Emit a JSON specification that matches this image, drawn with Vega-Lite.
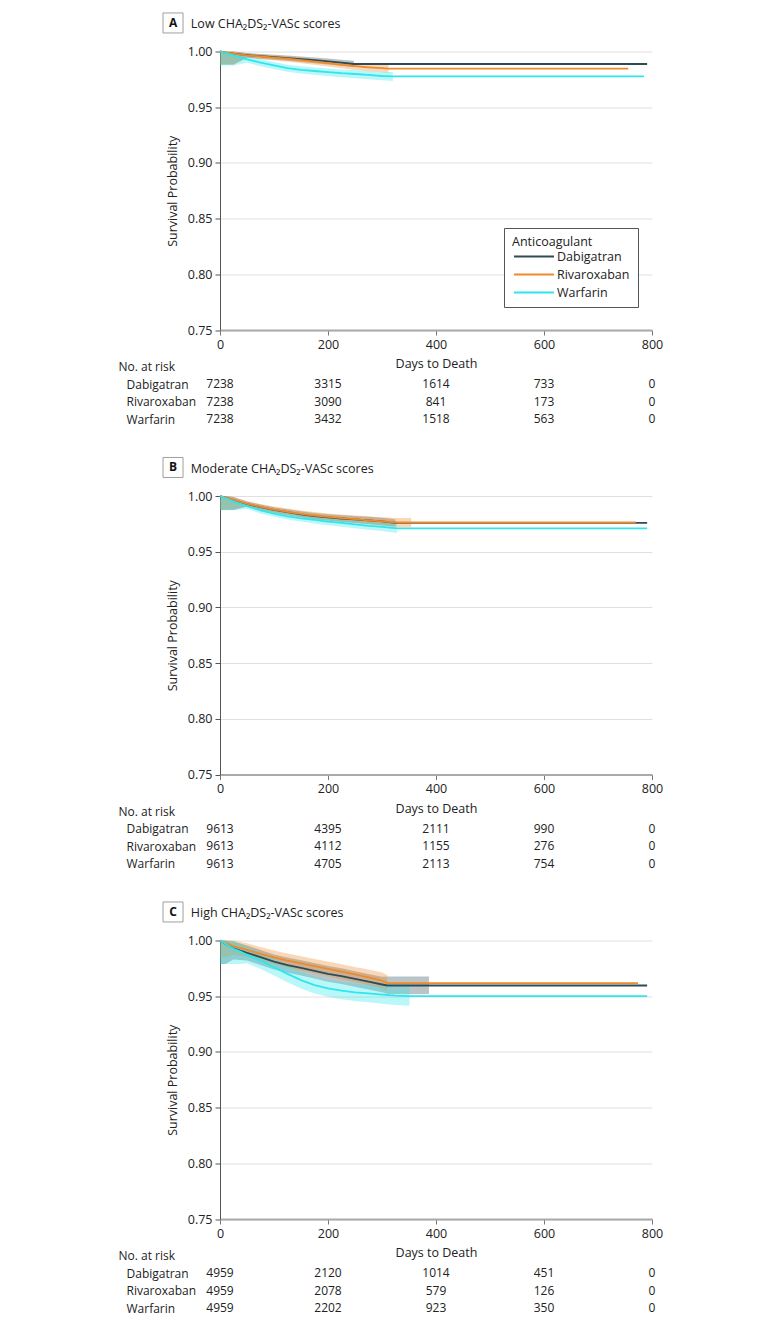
{
  "$schema": "https://vega.github.io/schema/vega-lite/v6.json",
  "padding": {"left": 118, "top": 10.5, "right": 10, "bottom": 4},
  "config": {
    "font": "Open Sans",
    "view": {"stroke": null},
    "axis": {"labelFont": "Open Sans", "titleFont": "Open Sans", "labelFontSize": 12.5, "titleFontSize": 12.5, "titleFontWeight": "normal", "labelColor": "#222", "titleColor": "#222", "labelFlush": false},
    "legend": {"labelFont": "Open Sans", "titleFont": "Open Sans"},
    "text": {"font": "Open Sans"}
  },
  "datasets": {
    "km": [
      {"p":"A","drug":"Dabigatran","day":0,"s":1.0,"lo":0.988,"hi":1.0},
      {"p":"A","drug":"Dabigatran","day":10,"s":0.999,"lo":0.988,"hi":1.0},
      {"p":"A","drug":"Dabigatran","day":25,"s":0.998,"lo":0.988,"hi":1.0},
      {"p":"A","drug":"Dabigatran","day":50,"s":0.9968,"lo":0.9945,"hi":0.9986},
      {"p":"A","drug":"Dabigatran","day":75,"s":0.9958,"lo":0.9935,"hi":0.9978},
      {"p":"A","drug":"Dabigatran","day":100,"s":0.995,"lo":0.9926,"hi":0.9971},
      {"p":"A","drug":"Dabigatran","day":125,"s":0.9941,"lo":0.9916,"hi":0.9964},
      {"p":"A","drug":"Dabigatran","day":150,"s":0.9932,"lo":0.9906,"hi":0.9956},
      {"p":"A","drug":"Dabigatran","day":175,"s":0.9922,"lo":0.9895,"hi":0.9947},
      {"p":"A","drug":"Dabigatran","day":200,"s":0.9912,"lo":0.9884,"hi":0.9938},
      {"p":"A","drug":"Dabigatran","day":225,"s":0.99,"lo":0.9872,"hi":0.9927},
      {"p":"A","drug":"Dabigatran","day":248,"s":0.9888,"lo":0.986,"hi":0.9916},
      {"p":"A","drug":"Dabigatran","day":791,"s":0.9888,"lo":null,"hi":null},
      {"p":"A","drug":"Rivaroxaban","day":0,"s":1.0,"lo":0.9885,"hi":1.0},
      {"p":"A","drug":"Rivaroxaban","day":10,"s":0.9992,"lo":0.9885,"hi":1.0},
      {"p":"A","drug":"Rivaroxaban","day":25,"s":0.998,"lo":0.9885,"hi":1.0},
      {"p":"A","drug":"Rivaroxaban","day":50,"s":0.9966,"lo":0.9942,"hi":0.9985},
      {"p":"A","drug":"Rivaroxaban","day":75,"s":0.9955,"lo":0.993,"hi":0.9976},
      {"p":"A","drug":"Rivaroxaban","day":100,"s":0.9945,"lo":0.9919,"hi":0.9967},
      {"p":"A","drug":"Rivaroxaban","day":125,"s":0.9935,"lo":0.9908,"hi":0.9958},
      {"p":"A","drug":"Rivaroxaban","day":150,"s":0.9922,"lo":0.9894,"hi":0.9946},
      {"p":"A","drug":"Rivaroxaban","day":175,"s":0.991,"lo":0.9881,"hi":0.9935},
      {"p":"A","drug":"Rivaroxaban","day":200,"s":0.9895,"lo":0.9865,"hi":0.9922},
      {"p":"A","drug":"Rivaroxaban","day":225,"s":0.988,"lo":0.9849,"hi":0.9908},
      {"p":"A","drug":"Rivaroxaban","day":250,"s":0.9868,"lo":0.9835,"hi":0.9897},
      {"p":"A","drug":"Rivaroxaban","day":275,"s":0.9858,"lo":0.9823,"hi":0.9889},
      {"p":"A","drug":"Rivaroxaban","day":300,"s":0.985,"lo":0.9813,"hi":0.9884},
      {"p":"A","drug":"Rivaroxaban","day":312,"s":0.9846,"lo":0.9808,"hi":0.9881},
      {"p":"A","drug":"Rivaroxaban","day":756,"s":0.9846,"lo":null,"hi":null},
      {"p":"A","drug":"Warfarin","day":0,"s":1.0,"lo":0.9875,"hi":1.0},
      {"p":"A","drug":"Warfarin","day":10,"s":0.9985,"lo":0.9875,"hi":1.0},
      {"p":"A","drug":"Warfarin","day":25,"s":0.9965,"lo":0.9875,"hi":0.999},
      {"p":"A","drug":"Warfarin","day":50,"s":0.993,"lo":0.9898,"hi":0.9958},
      {"p":"A","drug":"Warfarin","day":75,"s":0.99,"lo":0.9868,"hi":0.993},
      {"p":"A","drug":"Warfarin","day":100,"s":0.9875,"lo":0.9843,"hi":0.9905},
      {"p":"A","drug":"Warfarin","day":125,"s":0.985,"lo":0.9818,"hi":0.9881},
      {"p":"A","drug":"Warfarin","day":150,"s":0.9835,"lo":0.9802,"hi":0.9867},
      {"p":"A","drug":"Warfarin","day":175,"s":0.9825,"lo":0.9791,"hi":0.9857},
      {"p":"A","drug":"Warfarin","day":200,"s":0.9815,"lo":0.978,"hi":0.9848},
      {"p":"A","drug":"Warfarin","day":225,"s":0.9805,"lo":0.9769,"hi":0.9839},
      {"p":"A","drug":"Warfarin","day":250,"s":0.9798,"lo":0.9761,"hi":0.9833},
      {"p":"A","drug":"Warfarin","day":275,"s":0.979,"lo":0.9752,"hi":0.9826},
      {"p":"A","drug":"Warfarin","day":300,"s":0.978,"lo":0.9741,"hi":0.9817},
      {"p":"A","drug":"Warfarin","day":320,"s":0.9777,"lo":0.9735,"hi":0.9815},
      {"p":"A","drug":"Warfarin","day":785,"s":0.9777,"lo":null,"hi":null},

      {"p":"B","drug":"Dabigatran","day":0,"s":1.0,"lo":0.9875,"hi":1.0},
      {"p":"B","drug":"Dabigatran","day":10,"s":0.9985,"lo":0.9875,"hi":1.0},
      {"p":"B","drug":"Dabigatran","day":25,"s":0.9962,"lo":0.9875,"hi":0.999},
      {"p":"B","drug":"Dabigatran","day":50,"s":0.9928,"lo":0.9905,"hi":0.9951},
      {"p":"B","drug":"Dabigatran","day":75,"s":0.99,"lo":0.9875,"hi":0.9924},
      {"p":"B","drug":"Dabigatran","day":100,"s":0.9875,"lo":0.9849,"hi":0.99},
      {"p":"B","drug":"Dabigatran","day":125,"s":0.9855,"lo":0.9828,"hi":0.9881},
      {"p":"B","drug":"Dabigatran","day":150,"s":0.9835,"lo":0.9807,"hi":0.9862},
      {"p":"B","drug":"Dabigatran","day":175,"s":0.982,"lo":0.9791,"hi":0.9848},
      {"p":"B","drug":"Dabigatran","day":200,"s":0.9808,"lo":0.9778,"hi":0.9837},
      {"p":"B","drug":"Dabigatran","day":225,"s":0.9798,"lo":0.9767,"hi":0.9828},
      {"p":"B","drug":"Dabigatran","day":250,"s":0.979,"lo":0.9758,"hi":0.9821},
      {"p":"B","drug":"Dabigatran","day":275,"s":0.9782,"lo":0.9749,"hi":0.9814},
      {"p":"B","drug":"Dabigatran","day":300,"s":0.9772,"lo":0.9738,"hi":0.9805},
      {"p":"B","drug":"Dabigatran","day":325,"s":0.9758,"lo":0.9725,"hi":0.9792},
      {"p":"B","drug":"Dabigatran","day":791,"s":0.9758,"lo":null,"hi":null},
      {"p":"B","drug":"Rivaroxaban","day":0,"s":1.0,"lo":0.988,"hi":1.0},
      {"p":"B","drug":"Rivaroxaban","day":10,"s":0.9988,"lo":0.988,"hi":1.0},
      {"p":"B","drug":"Rivaroxaban","day":25,"s":0.9965,"lo":0.988,"hi":0.9992},
      {"p":"B","drug":"Rivaroxaban","day":50,"s":0.993,"lo":0.9905,"hi":0.9954},
      {"p":"B","drug":"Rivaroxaban","day":75,"s":0.9902,"lo":0.9875,"hi":0.9928},
      {"p":"B","drug":"Rivaroxaban","day":100,"s":0.9878,"lo":0.985,"hi":0.9905},
      {"p":"B","drug":"Rivaroxaban","day":125,"s":0.9858,"lo":0.9828,"hi":0.9887},
      {"p":"B","drug":"Rivaroxaban","day":150,"s":0.984,"lo":0.9809,"hi":0.987},
      {"p":"B","drug":"Rivaroxaban","day":175,"s":0.9825,"lo":0.9793,"hi":0.9856},
      {"p":"B","drug":"Rivaroxaban","day":200,"s":0.9812,"lo":0.9779,"hi":0.9844},
      {"p":"B","drug":"Rivaroxaban","day":225,"s":0.9802,"lo":0.9768,"hi":0.9835},
      {"p":"B","drug":"Rivaroxaban","day":250,"s":0.9792,"lo":0.9757,"hi":0.9826},
      {"p":"B","drug":"Rivaroxaban","day":275,"s":0.9782,"lo":0.9745,"hi":0.9818},
      {"p":"B","drug":"Rivaroxaban","day":300,"s":0.9772,"lo":0.9733,"hi":0.981},
      {"p":"B","drug":"Rivaroxaban","day":330,"s":0.9762,"lo":0.972,"hi":0.9802},
      {"p":"B","drug":"Rivaroxaban","day":354,"s":0.9762,"lo":0.972,"hi":0.9802},
      {"p":"B","drug":"Rivaroxaban","day":770,"s":0.9762,"lo":null,"hi":null},
      {"p":"B","drug":"Warfarin","day":0,"s":1.0,"lo":0.9872,"hi":1.0},
      {"p":"B","drug":"Warfarin","day":10,"s":0.998,"lo":0.9872,"hi":1.0},
      {"p":"B","drug":"Warfarin","day":25,"s":0.995,"lo":0.9872,"hi":0.9975},
      {"p":"B","drug":"Warfarin","day":50,"s":0.991,"lo":0.9885,"hi":0.9934},
      {"p":"B","drug":"Warfarin","day":75,"s":0.987,"lo":0.9844,"hi":0.9895},
      {"p":"B","drug":"Warfarin","day":100,"s":0.9842,"lo":0.9815,"hi":0.9868},
      {"p":"B","drug":"Warfarin","day":125,"s":0.9818,"lo":0.979,"hi":0.9845},
      {"p":"B","drug":"Warfarin","day":150,"s":0.98,"lo":0.977,"hi":0.9829},
      {"p":"B","drug":"Warfarin","day":175,"s":0.9785,"lo":0.9754,"hi":0.9815},
      {"p":"B","drug":"Warfarin","day":200,"s":0.977,"lo":0.9738,"hi":0.9801},
      {"p":"B","drug":"Warfarin","day":225,"s":0.9758,"lo":0.9725,"hi":0.979},
      {"p":"B","drug":"Warfarin","day":250,"s":0.9745,"lo":0.9711,"hi":0.9778},
      {"p":"B","drug":"Warfarin","day":275,"s":0.9732,"lo":0.9697,"hi":0.9766},
      {"p":"B","drug":"Warfarin","day":300,"s":0.9722,"lo":0.9685,"hi":0.9758},
      {"p":"B","drug":"Warfarin","day":328,"s":0.971,"lo":0.9668,"hi":0.9752},
      {"p":"B","drug":"Warfarin","day":791,"s":0.971,"lo":null,"hi":null},

      {"p":"C","drug":"Dabigatran","day":0,"s":1.0,"lo":0.979,"hi":1.0},
      {"p":"C","drug":"Dabigatran","day":10,"s":0.997,"lo":0.979,"hi":1.0},
      {"p":"C","drug":"Dabigatran","day":25,"s":0.993,"lo":0.983,"hi":0.999},
      {"p":"C","drug":"Dabigatran","day":50,"s":0.989,"lo":0.982,"hi":0.9955},
      {"p":"C","drug":"Dabigatran","day":75,"s":0.985,"lo":0.978,"hi":0.9915},
      {"p":"C","drug":"Dabigatran","day":100,"s":0.981,"lo":0.974,"hi":0.9875},
      {"p":"C","drug":"Dabigatran","day":125,"s":0.978,"lo":0.971,"hi":0.9848},
      {"p":"C","drug":"Dabigatran","day":150,"s":0.9755,"lo":0.9685,"hi":0.9823},
      {"p":"C","drug":"Dabigatran","day":175,"s":0.9728,"lo":0.9658,"hi":0.9797},
      {"p":"C","drug":"Dabigatran","day":200,"s":0.97,"lo":0.963,"hi":0.977},
      {"p":"C","drug":"Dabigatran","day":225,"s":0.968,"lo":0.961,"hi":0.975},
      {"p":"C","drug":"Dabigatran","day":250,"s":0.9655,"lo":0.9585,"hi":0.9725},
      {"p":"C","drug":"Dabigatran","day":275,"s":0.963,"lo":0.956,"hi":0.97},
      {"p":"C","drug":"Dabigatran","day":300,"s":0.9605,"lo":0.9535,"hi":0.9675},
      {"p":"C","drug":"Dabigatran","day":310,"s":0.9596,"lo":0.952,"hi":0.9677},
      {"p":"C","drug":"Dabigatran","day":387,"s":0.9596,"lo":0.952,"hi":0.9677},
      {"p":"C","drug":"Dabigatran","day":791,"s":0.9596,"lo":null,"hi":null},
      {"p":"C","drug":"Rivaroxaban","day":0,"s":1.0,"lo":0.985,"hi":1.0},
      {"p":"C","drug":"Rivaroxaban","day":10,"s":0.998,"lo":0.985,"hi":1.0},
      {"p":"C","drug":"Rivaroxaban","day":25,"s":0.995,"lo":0.987,"hi":1.0},
      {"p":"C","drug":"Rivaroxaban","day":50,"s":0.9915,"lo":0.9855,"hi":0.9975},
      {"p":"C","drug":"Rivaroxaban","day":75,"s":0.988,"lo":0.9818,"hi":0.9942},
      {"p":"C","drug":"Rivaroxaban","day":100,"s":0.9848,"lo":0.9785,"hi":0.991},
      {"p":"C","drug":"Rivaroxaban","day":125,"s":0.982,"lo":0.9757,"hi":0.9883},
      {"p":"C","drug":"Rivaroxaban","day":150,"s":0.9795,"lo":0.9731,"hi":0.9859},
      {"p":"C","drug":"Rivaroxaban","day":175,"s":0.977,"lo":0.9705,"hi":0.9835},
      {"p":"C","drug":"Rivaroxaban","day":200,"s":0.9745,"lo":0.9679,"hi":0.9811},
      {"p":"C","drug":"Rivaroxaban","day":225,"s":0.972,"lo":0.9653,"hi":0.9787},
      {"p":"C","drug":"Rivaroxaban","day":250,"s":0.9695,"lo":0.9627,"hi":0.9763},
      {"p":"C","drug":"Rivaroxaban","day":275,"s":0.967,"lo":0.96,"hi":0.974},
      {"p":"C","drug":"Rivaroxaban","day":300,"s":0.964,"lo":0.9568,"hi":0.9712},
      {"p":"C","drug":"Rivaroxaban","day":310,"s":0.9617,"lo":0.9545,"hi":0.969},
      {"p":"C","drug":"Rivaroxaban","day":774,"s":0.9617,"lo":null,"hi":null},
      {"p":"C","drug":"Warfarin","day":0,"s":1.0,"lo":0.979,"hi":1.0},
      {"p":"C","drug":"Warfarin","day":10,"s":0.997,"lo":0.979,"hi":1.0},
      {"p":"C","drug":"Warfarin","day":25,"s":0.9925,"lo":0.979,"hi":0.999},
      {"p":"C","drug":"Warfarin","day":38,"s":0.99,"lo":0.979,"hi":0.997},
      {"p":"C","drug":"Warfarin","day":50,"s":0.987,"lo":0.9795,"hi":0.9945},
      {"p":"C","drug":"Warfarin","day":75,"s":0.982,"lo":0.9745,"hi":0.9895},
      {"p":"C","drug":"Warfarin","day":100,"s":0.976,"lo":0.9685,"hi":0.9835},
      {"p":"C","drug":"Warfarin","day":125,"s":0.97,"lo":0.9625,"hi":0.9775},
      {"p":"C","drug":"Warfarin","day":150,"s":0.9645,"lo":0.957,"hi":0.972},
      {"p":"C","drug":"Warfarin","day":175,"s":0.96,"lo":0.9525,"hi":0.9675},
      {"p":"C","drug":"Warfarin","day":200,"s":0.957,"lo":0.9495,"hi":0.9645},
      {"p":"C","drug":"Warfarin","day":225,"s":0.955,"lo":0.9473,"hi":0.9627},
      {"p":"C","drug":"Warfarin","day":250,"s":0.9535,"lo":0.9456,"hi":0.9614},
      {"p":"C","drug":"Warfarin","day":275,"s":0.9525,"lo":0.9445,"hi":0.9605},
      {"p":"C","drug":"Warfarin","day":300,"s":0.9515,"lo":0.9433,"hi":0.9597},
      {"p":"C","drug":"Warfarin","day":325,"s":0.9505,"lo":0.942,"hi":0.959},
      {"p":"C","drug":"Warfarin","day":351,"s":0.95,"lo":0.9415,"hi":0.9585},
      {"p":"C","drug":"Warfarin","day":791,"s":0.95,"lo":null,"hi":null}
    ],
    "risk": [
      {"p":"A","drug":"Dabigatran","day":0,"n":"7238"},{"p":"A","drug":"Dabigatran","day":200,"n":"3315"},{"p":"A","drug":"Dabigatran","day":400,"n":"1614"},{"p":"A","drug":"Dabigatran","day":600,"n":"733"},{"p":"A","drug":"Dabigatran","day":800,"n":"0"},
      {"p":"A","drug":"Rivaroxaban","day":0,"n":"7238"},{"p":"A","drug":"Rivaroxaban","day":200,"n":"3090"},{"p":"A","drug":"Rivaroxaban","day":400,"n":"841"},{"p":"A","drug":"Rivaroxaban","day":600,"n":"173"},{"p":"A","drug":"Rivaroxaban","day":800,"n":"0"},
      {"p":"A","drug":"Warfarin","day":0,"n":"7238"},{"p":"A","drug":"Warfarin","day":200,"n":"3432"},{"p":"A","drug":"Warfarin","day":400,"n":"1518"},{"p":"A","drug":"Warfarin","day":600,"n":"563"},{"p":"A","drug":"Warfarin","day":800,"n":"0"},
      {"p":"B","drug":"Dabigatran","day":0,"n":"9613"},{"p":"B","drug":"Dabigatran","day":200,"n":"4395"},{"p":"B","drug":"Dabigatran","day":400,"n":"2111"},{"p":"B","drug":"Dabigatran","day":600,"n":"990"},{"p":"B","drug":"Dabigatran","day":800,"n":"0"},
      {"p":"B","drug":"Rivaroxaban","day":0,"n":"9613"},{"p":"B","drug":"Rivaroxaban","day":200,"n":"4112"},{"p":"B","drug":"Rivaroxaban","day":400,"n":"1155"},{"p":"B","drug":"Rivaroxaban","day":600,"n":"276"},{"p":"B","drug":"Rivaroxaban","day":800,"n":"0"},
      {"p":"B","drug":"Warfarin","day":0,"n":"9613"},{"p":"B","drug":"Warfarin","day":200,"n":"4705"},{"p":"B","drug":"Warfarin","day":400,"n":"2113"},{"p":"B","drug":"Warfarin","day":600,"n":"754"},{"p":"B","drug":"Warfarin","day":800,"n":"0"},
      {"p":"C","drug":"Dabigatran","day":0,"n":"4959"},{"p":"C","drug":"Dabigatran","day":200,"n":"2120"},{"p":"C","drug":"Dabigatran","day":400,"n":"1014"},{"p":"C","drug":"Dabigatran","day":600,"n":"451"},{"p":"C","drug":"Dabigatran","day":800,"n":"0"},
      {"p":"C","drug":"Rivaroxaban","day":0,"n":"4959"},{"p":"C","drug":"Rivaroxaban","day":200,"n":"2078"},{"p":"C","drug":"Rivaroxaban","day":400,"n":"579"},{"p":"C","drug":"Rivaroxaban","day":600,"n":"126"},{"p":"C","drug":"Rivaroxaban","day":800,"n":"0"},
      {"p":"C","drug":"Warfarin","day":0,"n":"4959"},{"p":"C","drug":"Warfarin","day":200,"n":"2202"},{"p":"C","drug":"Warfarin","day":400,"n":"923"},{"p":"C","drug":"Warfarin","day":600,"n":"350"},{"p":"C","drug":"Warfarin","day":800,"n":"0"}
    ],
    "labels": [
      {"p":"A","letter":"A","title":"Low CHA₂DS₂-VASc scores"},
      {"p":"B","letter":"B","title":"Moderate CHA₂DS₂-VASc scores"},
      {"p":"C","letter":"C","title":"High CHA₂DS₂-VASc scores"}
    ]
  },
  "spacing": 26.5,
  "resolve": {"scale": {"x": "independent", "y": "independent", "color": "independent"}, "legend": {"color": "independent"}, "axis": {"x": "independent", "y": "independent"}},
  "vconcat": [
    {
      "bounds": "flush",
      "spacing": 45,
      "resolve": {"scale": {"x": "independent", "y": "independent", "color": "independent"}, "legend": {"color": "independent"}, "axis": {"x": "independent", "y": "independent"}},
      "vconcat": [
        {
          "width": 432, "height": 278.5,
          "layer": [
            {
              "data": {"name": "km"},
              "transform": [{"filter": "datum.p == 'A' && datum.lo != null"}],
              "mark": {"type": "area", "interpolate": "linear", "fillOpacity": 0.33},
              "encoding": {
                "x": {"field": "day", "type": "quantitative", "scale": {"domain": [0, 800], "nice": false}, "axis": {"values": [0, 200, 400, 600, 800], "title": "Days to Death", "grid": false, "domainColor": "#aaa", "domainWidth": 2, "tickColor": "#777", "tickSize": 5, "labelPadding": 3, "titlePadding": 7}},
                "y": {"field": "lo", "type": "quantitative", "scale": {"domain": [0.75, 1.0], "nice": false, "zero": false}, "axis": {"values": [0.75, 0.8, 0.85, 0.9, 0.95, 1.0], "format": ".2f", "title": "Survival Probability", "gridColor": "#e0e0e0", "domainColor": "#555", "tickColor": "#555", "tickSize": 5, "labelPadding": 3, "titlePadding": 8}},
                "y2": {"field": "hi"},
                "color": {"field": "drug", "type": "nominal", "scale": {"domain": ["Dabigatran", "Rivaroxaban", "Warfarin"], "range": ["#2f4b55", "#ee8a2c", "#2ee6ee"]}}
              }
            },
            {
              "data": {"name": "km"},
              "transform": [{"filter": "datum.p == 'A'"}],
              "mark": {"type": "line", "interpolate": "linear", "strokeWidth": 1.8},
              "encoding": {
                "x": {"field": "day", "type": "quantitative", "scale": {"domain": [0, 800], "nice": false}, "axis": {"values": [0, 200, 400, 600, 800], "title": "Days to Death"}},
                "y": {"field": "s", "type": "quantitative", "scale": {"domain": [0.75, 1.0], "nice": false, "zero": false}, "axis": {"values": [0.75, 0.8, 0.85, 0.9, 0.95, 1.0], "format": ".2f", "title": "Survival Probability"}},
                "color": {"field": "drug", "type": "nominal", "scale": {"domain": ["Dabigatran", "Rivaroxaban", "Warfarin"], "range": ["#2f4b55", "#ee8a2c", "#2ee6ee"]},
                  "legend": {"title": "Anticoagulant", "orient": "none", "legendX": 284, "legendY": 176.5, "strokeColor": "#555", "fillColor": "white", "padding": 8, "symbolType": "M-2,0H2", "symbolSize": 400, "symbolOffset": 11, "labelOffset": 12, "symbolStrokeWidth": 2, "symbolOpacity": 1, "labelFontSize": 12.5, "titleFontSize": 12.5, "titleFontWeight": "normal", "labelColor": "#222", "titleColor": "#222", "rowPadding": -2.4, "titlePadding": -3}}
              }
            },
            {
              "data": {"name": "labels"},
              "transform": [{"filter": "datum.p == 'A'"}],
              "mark": {"type": "point", "shape": "square", "size": 400, "filled": false, "stroke": "#777", "strokeWidth": 1, "clip": false},
              "encoding": {"x": {"datum": -87, "type": "quantitative"}, "y": {"datum": 1.0256, "type": "quantitative"}}
            },
            {
              "data": {"name": "labels"},
              "transform": [{"filter": "datum.p == 'A'"}],
              "mark": {"type": "text", "fontSize": 12, "fontWeight": "bold", "color": "#111", "baseline": "middle", "align": "center", "clip": false},
              "encoding": {"x": {"datum": -87, "type": "quantitative"}, "y": {"datum": 1.0256, "type": "quantitative"}, "text": {"field": "letter"}}
            },
            {
              "data": {"name": "labels"},
              "transform": [{"filter": "datum.p == 'A'"}],
              "mark": {"type": "text", "fontSize": 12.5, "color": "#222", "baseline": "middle", "align": "left", "clip": false},
              "encoding": {"x": {"datum": -54, "type": "quantitative"}, "y": {"datum": 1.0245, "type": "quantitative"}, "text": {"field": "title"}}
            }
          ]
        },
        {
          "width": 432, "height": 52.5,
          "data": {"name": "risk"},
          "transform": [{"filter": "datum.p == 'A'"}],
          "mark": {"type": "text", "fontSize": 12, "color": "#222", "baseline": "middle"},
          "encoding": {
            "x": {"field": "day", "type": "quantitative", "scale": {"domain": [0, 800], "nice": false}, "axis": null},
            "y": {"field": "drug", "type": "nominal", "sort": ["Dabigatran", "Rivaroxaban", "Warfarin"], "axis": {"title": "No. at risk", "titleAngle": 0, "titleAlign": "left", "titleBaseline": "middle", "titleX": -102, "titleY": -9, "titleFontSize": 12, "labelFontSize": 12, "labelAlign": "left", "labelPadding": 94, "ticks": false, "domain": false, "grid": false}},
            "text": {"field": "n"}
          }
        }
      ]
    },
    {
      "bounds": "flush",
      "spacing": 45,
      "resolve": {"scale": {"x": "independent", "y": "independent", "color": "independent"}, "legend": {"color": "independent"}, "axis": {"x": "independent", "y": "independent"}},
      "vconcat": [
        {
          "width": 432, "height": 278.5,
          "layer": [
            {
              "data": {"name": "km"},
              "transform": [{"filter": "datum.p == 'B' && datum.lo != null"}],
              "mark": {"type": "area", "interpolate": "linear", "fillOpacity": 0.33},
              "encoding": {
                "x": {"field": "day", "type": "quantitative", "scale": {"domain": [0, 800], "nice": false}, "axis": {"values": [0, 200, 400, 600, 800], "title": "Days to Death", "grid": false, "domainColor": "#aaa", "domainWidth": 2, "tickColor": "#777", "tickSize": 5, "labelPadding": 3, "titlePadding": 7}},
                "y": {"field": "lo", "type": "quantitative", "scale": {"domain": [0.75, 1.0], "nice": false, "zero": false}, "axis": {"values": [0.75, 0.8, 0.85, 0.9, 0.95, 1.0], "format": ".2f", "title": "Survival Probability", "gridColor": "#e0e0e0", "domainColor": "#555", "tickColor": "#555", "tickSize": 5, "labelPadding": 3, "titlePadding": 8}},
                "y2": {"field": "hi"},
                "color": {"field": "drug", "type": "nominal", "scale": {"domain": ["Dabigatran", "Rivaroxaban", "Warfarin"], "range": ["#2f4b55", "#ee8a2c", "#2ee6ee"]}, "legend": null}
              }
            },
            {
              "data": {"name": "km"},
              "transform": [{"filter": "datum.p == 'B'"}],
              "mark": {"type": "line", "interpolate": "linear", "strokeWidth": 1.8},
              "encoding": {
                "x": {"field": "day", "type": "quantitative", "scale": {"domain": [0, 800], "nice": false}, "axis": {"values": [0, 200, 400, 600, 800], "title": "Days to Death"}},
                "y": {"field": "s", "type": "quantitative", "scale": {"domain": [0.75, 1.0], "nice": false, "zero": false}, "axis": {"values": [0.75, 0.8, 0.85, 0.9, 0.95, 1.0], "format": ".2f", "title": "Survival Probability"}},
                "color": {"field": "drug", "type": "nominal", "scale": {"domain": ["Dabigatran", "Rivaroxaban", "Warfarin"], "range": ["#2f4b55", "#ee8a2c", "#2ee6ee"]}, "legend": null}
              }
            },
            {
              "data": {"name": "labels"},
              "transform": [{"filter": "datum.p == 'B'"}],
              "mark": {"type": "point", "shape": "square", "size": 400, "filled": false, "stroke": "#777", "strokeWidth": 1, "clip": false},
              "encoding": {"x": {"datum": -87, "type": "quantitative"}, "y": {"datum": 1.0256, "type": "quantitative"}}
            },
            {
              "data": {"name": "labels"},
              "transform": [{"filter": "datum.p == 'B'"}],
              "mark": {"type": "text", "fontSize": 12, "fontWeight": "bold", "color": "#111", "baseline": "middle", "align": "center", "clip": false},
              "encoding": {"x": {"datum": -87, "type": "quantitative"}, "y": {"datum": 1.0256, "type": "quantitative"}, "text": {"field": "letter"}}
            },
            {
              "data": {"name": "labels"},
              "transform": [{"filter": "datum.p == 'B'"}],
              "mark": {"type": "text", "fontSize": 12.5, "color": "#222", "baseline": "middle", "align": "left", "clip": false},
              "encoding": {"x": {"datum": -54, "type": "quantitative"}, "y": {"datum": 1.0245, "type": "quantitative"}, "text": {"field": "title"}}
            }
          ]
        },
        {
          "width": 432, "height": 52.5,
          "data": {"name": "risk"},
          "transform": [{"filter": "datum.p == 'B'"}],
          "mark": {"type": "text", "fontSize": 12, "color": "#222", "baseline": "middle"},
          "encoding": {
            "x": {"field": "day", "type": "quantitative", "scale": {"domain": [0, 800], "nice": false}, "axis": null},
            "y": {"field": "drug", "type": "nominal", "sort": ["Dabigatran", "Rivaroxaban", "Warfarin"], "axis": {"title": "No. at risk", "titleAngle": 0, "titleAlign": "left", "titleBaseline": "middle", "titleX": -102, "titleY": -9, "titleFontSize": 12, "labelFontSize": 12, "labelAlign": "left", "labelPadding": 94, "ticks": false, "domain": false, "grid": false}},
            "text": {"field": "n"}
          }
        }
      ]
    },
    {
      "bounds": "flush",
      "spacing": 45,
      "resolve": {"scale": {"x": "independent", "y": "independent", "color": "independent"}, "legend": {"color": "independent"}, "axis": {"x": "independent", "y": "independent"}},
      "vconcat": [
        {
          "width": 432, "height": 278.5,
          "layer": [
            {
              "data": {"name": "km"},
              "transform": [{"filter": "datum.p == 'C' && datum.lo != null"}],
              "mark": {"type": "area", "interpolate": "linear", "fillOpacity": 0.33},
              "encoding": {
                "x": {"field": "day", "type": "quantitative", "scale": {"domain": [0, 800], "nice": false}, "axis": {"values": [0, 200, 400, 600, 800], "title": "Days to Death", "grid": false, "domainColor": "#aaa", "domainWidth": 2, "tickColor": "#777", "tickSize": 5, "labelPadding": 3, "titlePadding": 7}},
                "y": {"field": "lo", "type": "quantitative", "scale": {"domain": [0.75, 1.0], "nice": false, "zero": false}, "axis": {"values": [0.75, 0.8, 0.85, 0.9, 0.95, 1.0], "format": ".2f", "title": "Survival Probability", "gridColor": "#e0e0e0", "domainColor": "#555", "tickColor": "#555", "tickSize": 5, "labelPadding": 3, "titlePadding": 8}},
                "y2": {"field": "hi"},
                "color": {"field": "drug", "type": "nominal", "scale": {"domain": ["Dabigatran", "Rivaroxaban", "Warfarin"], "range": ["#2f4b55", "#ee8a2c", "#2ee6ee"]}, "legend": null}
              }
            },
            {
              "data": {"name": "km"},
              "transform": [{"filter": "datum.p == 'C'"}],
              "mark": {"type": "line", "interpolate": "linear", "strokeWidth": 1.8},
              "encoding": {
                "x": {"field": "day", "type": "quantitative", "scale": {"domain": [0, 800], "nice": false}, "axis": {"values": [0, 200, 400, 600, 800], "title": "Days to Death"}},
                "y": {"field": "s", "type": "quantitative", "scale": {"domain": [0.75, 1.0], "nice": false, "zero": false}, "axis": {"values": [0.75, 0.8, 0.85, 0.9, 0.95, 1.0], "format": ".2f", "title": "Survival Probability"}},
                "color": {"field": "drug", "type": "nominal", "scale": {"domain": ["Dabigatran", "Rivaroxaban", "Warfarin"], "range": ["#2f4b55", "#ee8a2c", "#2ee6ee"]}, "legend": null}
              }
            },
            {
              "data": {"name": "labels"},
              "transform": [{"filter": "datum.p == 'C'"}],
              "mark": {"type": "point", "shape": "square", "size": 400, "filled": false, "stroke": "#777", "strokeWidth": 1, "clip": false},
              "encoding": {"x": {"datum": -87, "type": "quantitative"}, "y": {"datum": 1.0256, "type": "quantitative"}}
            },
            {
              "data": {"name": "labels"},
              "transform": [{"filter": "datum.p == 'C'"}],
              "mark": {"type": "text", "fontSize": 12, "fontWeight": "bold", "color": "#111", "baseline": "middle", "align": "center", "clip": false},
              "encoding": {"x": {"datum": -87, "type": "quantitative"}, "y": {"datum": 1.0256, "type": "quantitative"}, "text": {"field": "letter"}}
            },
            {
              "data": {"name": "labels"},
              "transform": [{"filter": "datum.p == 'C'"}],
              "mark": {"type": "text", "fontSize": 12.5, "color": "#222", "baseline": "middle", "align": "left", "clip": false},
              "encoding": {"x": {"datum": -54, "type": "quantitative"}, "y": {"datum": 1.0245, "type": "quantitative"}, "text": {"field": "title"}}
            }
          ]
        },
        {
          "width": 432, "height": 52.5,
          "data": {"name": "risk"},
          "transform": [{"filter": "datum.p == 'C'"}],
          "mark": {"type": "text", "fontSize": 12, "color": "#222", "baseline": "middle"},
          "encoding": {
            "x": {"field": "day", "type": "quantitative", "scale": {"domain": [0, 800], "nice": false}, "axis": null},
            "y": {"field": "drug", "type": "nominal", "sort": ["Dabigatran", "Rivaroxaban", "Warfarin"], "axis": {"title": "No. at risk", "titleAngle": 0, "titleAlign": "left", "titleBaseline": "middle", "titleX": -102, "titleY": -9, "titleFontSize": 12, "labelFontSize": 12, "labelAlign": "left", "labelPadding": 94, "ticks": false, "domain": false, "grid": false}},
            "text": {"field": "n"}
          }
        }
      ]
    }
  ]
}
